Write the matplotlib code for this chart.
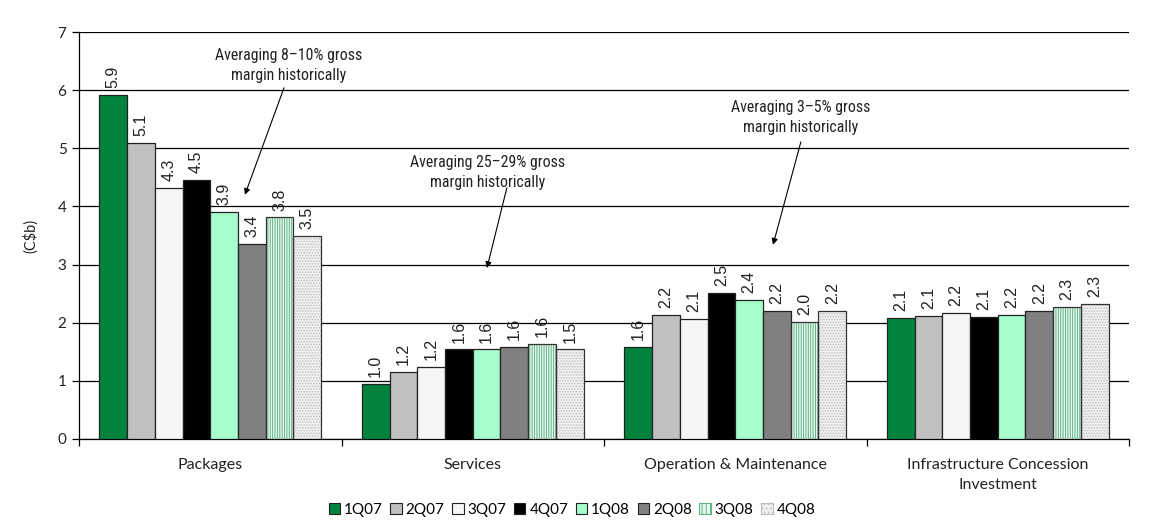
import matplotlib
matplotlib.use("Agg")
import matplotlib.pyplot as plt
import matplotlib.patches as mpatches
from matplotlib import font_manager
import numpy as np

plt.rcParams['font.family'] = ['Lato', 'DejaVu Sans']
plt.rcParams['hatch.linewidth'] = 0.7

categories = ["Packages", "Services", "Operation & Maintenance",
              "Infrastructure Concession\nInvestment"]
series = ["1Q07", "2Q07", "3Q07", "4Q07", "1Q08", "2Q08", "3Q08", "4Q08"]

# values per series (across categories)
v_1q07 = [5.92, 0.94, 1.59, 2.08]
v_2q07 = [5.09, 1.15, 2.14, 2.11]
v_3q07 = [4.31, 1.24, 2.06, 2.16]
v_4q07 = [4.45, 1.54, 2.51, 2.10]
v_1q08 = [3.90, 1.54, 2.39, 2.14]
v_2q08 = [3.35, 1.59, 2.21, 2.21]
v_3q08 = [3.81, 1.63, 2.02, 2.27]
v_4q08 = [3.50, 1.54, 2.20, 2.33]

# printed data labels
l_1q07 = ["5.9", "1.0", "1.6", "2.1"]
l_2q07 = ["5.1", "1.2", "2.2", "2.1"]
l_3q07 = ["4.3", "1.2", "2.1", "2.2"]
l_4q07 = ["4.5", "1.6", "2.5", "2.1"]
l_1q08 = ["3.9", "1.6", "2.4", "2.2"]
l_2q08 = ["3.4", "1.6", "2.2", "2.2"]
l_3q08 = ["3.8", "1.6", "2.0", "2.3"]
l_4q08 = ["3.5", "1.5", "2.2", "2.3"]

values = [v_1q07, v_2q07, v_3q07, v_4q07, v_1q08, v_2q08, v_3q08, v_4q08]
labels = [l_1q07, l_2q07, l_3q07, l_4q07, l_1q08, l_2q08, l_3q08, l_4q08]

styles = [
    dict(facecolor="#00843D", hatch=None, hcolor=None),
    dict(facecolor="#C0C0C0", hatch=None, hcolor=None),
    dict(facecolor="#F6F6F6", hatch=None, hcolor=None),
    dict(facecolor="#000000", hatch=None, hcolor=None),
    dict(facecolor="#A6FFCC", hatch=None, hcolor=None),
    dict(facecolor="#808080", hatch=None, hcolor=None),
    dict(facecolor="#EAF7EF", hatch="|||||||", hcolor="#5DB585"),
    dict(facecolor="#F0F0F0", hatch="......", hcolor="#BDBDBD"),
]

# pick a narrow family for the callouts if one is installed
anno_family, anno_size = ["Lato", "DejaVu Sans"], 10.2
for fam in ["Liberation Sans Narrow", "Roboto Condensed", "Open Sans Condensed",
            "Noto Sans Condensed"]:
    try:
        font_manager.findfont(font_manager.FontProperties(family=fam),
                              fallback_to_default=False)
        anno_family, anno_size = [fam, "Lato", "DejaVu Sans"], 11.4
        break
    except Exception:
        pass

fig = plt.figure(figsize=(11.59, 5.23), dpi=100)
ax = fig.add_axes([79/1159, 1-439/523, (1129-79)/1159, (439-32)/523])

x = np.arange(len(categories))
n = len(series)
w = 0.845 / n

for i, (vals, labs, st) in enumerate(zip(values, labels, styles)):
    pos = x + (i - (n - 1) / 2) * w
    if st["hatch"]:
        ax.bar(pos, vals, w, color=st["facecolor"], edgecolor=st["hcolor"],
               hatch=st["hatch"], linewidth=0, zorder=3)
        ax.bar(pos, vals, w, fill=False, edgecolor="#333333", linewidth=0.9, zorder=4)
    else:
        ax.bar(pos, vals, w, color=st["facecolor"], edgecolor="#222222",
               linewidth=0.9, zorder=3)
    for px, v, lab in zip(pos, vals, labs):
        ax.annotate(lab, (px, v), xytext=(0, 5), textcoords="offset points",
                    rotation=90, ha="center", va="bottom", fontsize=11.5,
                    family=["Liberation Sans", "DejaVu Sans"], color="#222222")

ax.set_xlim(-0.5, 3.5)
ax.set_ylim(0, 7)
ax.set_yticks(range(0, 8))
ax.yaxis.grid(True, color="black", linewidth=0.9, zorder=0)
ax.set_axisbelow(True)
ax.set_xticks(x)
ax.set_xticklabels(categories, fontsize=11.5, color="#222222", linespacing=1.55)
ax.set_xticks(np.arange(-0.5, 4, 1), minor=True)
ax.tick_params(axis="x", which="major", length=0, pad=14)
ax.tick_params(axis="x", which="minor", length=5, width=0.9, direction="out")
ax.tick_params(axis="y", length=5, width=0.9, direction="out", labelsize=11, pad=4,
               labelcolor="#222222")
for s in ["top", "right"]:
    ax.spines[s].set_visible(False)
ax.spines["left"].set_linewidth(0.9)
ax.spines["bottom"].set_linewidth(0.9)
ax.set_ylabel("(C$b)", fontsize=10.5, color="#222222", labelpad=14)

annos = [
    ("Averaging 8\u201310% gross\nmargin historically", (0.30, 6.42), (0.281, 6.04), (0.132, 4.20)),
    ("Averaging 25\u201329% gross\nmargin historically", (1.058, 4.59), (1.130, 4.32), (1.054, 2.94)),
    ("Averaging 3\u20135% gross\nmargin historically", (2.25, 5.53), (2.25, 5.11), (2.144, 3.34)),
]
for txt, tpos, start, tip in annos:
    ax.text(tpos[0], tpos[1], txt, ha="center", va="center", fontsize=anno_size,
            family=anno_family, color="#222222", linespacing=1.4, zorder=6)
    ax.annotate("", xy=tip, xytext=start,
                arrowprops=dict(arrowstyle="-|>", lw=0.8, color="black",
                                shrinkA=0, shrinkB=0, mutation_scale=9), zorder=6)

handles = []
for st in styles:
    if st["hatch"]:
        h = mpatches.Patch(facecolor=st["facecolor"], edgecolor=st["hcolor"], hatch=st["hatch"][:4],
                           linewidth=0.8)
    else:
        h = mpatches.Patch(facecolor=st["facecolor"], edgecolor="#222222", linewidth=0.8)
    handles.append(h)
fig.legend(handles, series, loc="center", bbox_to_anchor=(572/1159, 1-510/523),
           ncol=n, frameon=False, fontsize=11, handlelength=0.75, handleheight=0.75,
           handletextpad=0.25, columnspacing=0.5, borderaxespad=0)

fig.savefig("out.png", dpi=100)
